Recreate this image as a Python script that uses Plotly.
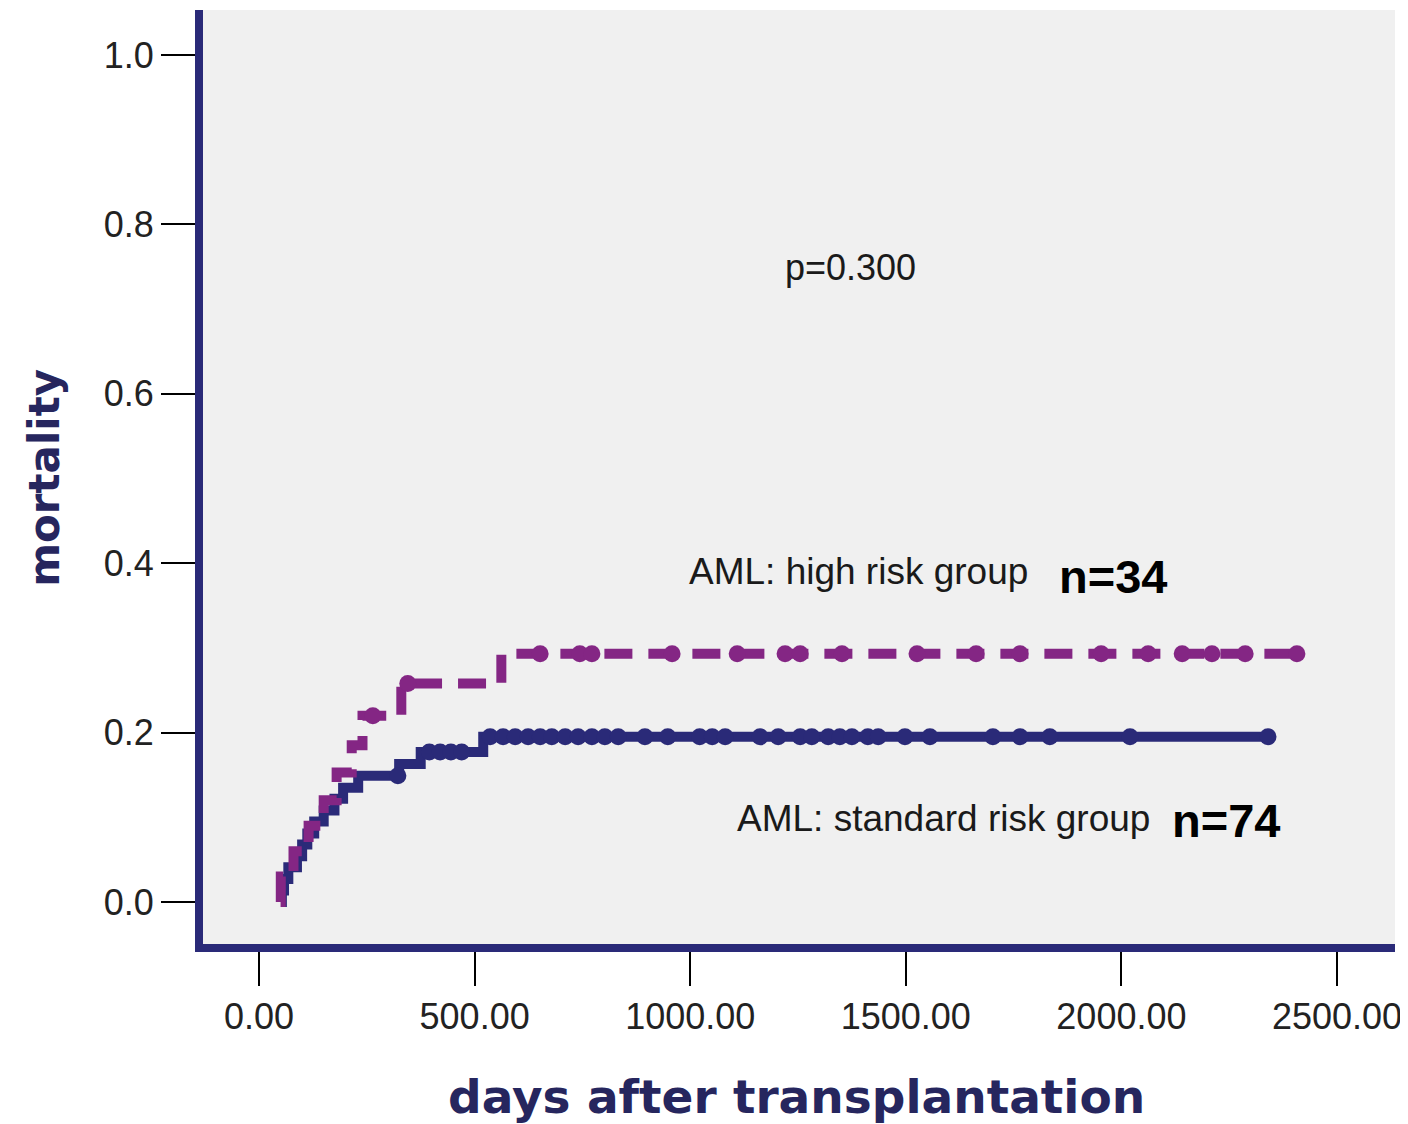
import plotly.graph_objects as go
import bisect

# ---------------- data ----------------
# standard risk group (n=74): cumulative mortality step function
std_days = [52, 53, 58, 68, 88, 100, 112, 128, 150, 175, 195, 230, 325, 375, 520, 2340]
std_mort = [0.0, 0.0135, 0.027, 0.041, 0.054, 0.068, 0.081, 0.095, 0.108, 0.122, 0.135,
            0.149, 0.163, 0.177, 0.195, 0.195]
std_censor_days = [322, 395, 420, 445, 470, 536, 566, 594, 624, 652, 679, 710, 740, 772,
                   802, 833, 895, 948, 1022, 1051, 1081, 1162, 1204, 1255, 1282, 1320,
                   1347, 1375, 1412, 1436, 1498, 1556, 1702, 1765, 1834, 2020, 2340]

# high risk group (n=34)
high_days = [50, 50.5, 80, 115, 150, 180, 215, 240, 330, 562, 2407]
high_mort = [0.0, 0.03, 0.06, 0.09, 0.12, 0.153, 0.185, 0.22, 0.258, 0.293, 0.293]
high_censor_days = [264, 345, 652, 744, 772, 958, 1109, 1220, 1255, 1352, 1526, 1663,
                    1765, 1953, 2062, 2141, 2210, 2287, 2407]

x_ticks = [0, 500, 1000, 1500, 2000, 2500]
x_tick_labels = ["0.00", "500.00", "1000.00", "1500.00", "2000.00", "2500.00"]
y_ticks = [0.0, 0.2, 0.4, 0.6, 0.8, 1.0]
y_tick_labels = ["0.0", "0.2", "0.4", "0.6", "0.8", "1.0"]


def step_value(days, vals, t):
    i = bisect.bisect_right(days, t) - 1
    return vals[max(i, 0)]


NAVY = "#2a2a78"
PURPLE = "#842684"

fig = go.Figure()

fig.add_trace(go.Scatter(
    x=std_days, y=std_mort, mode="lines", line=dict(color=NAVY, width=10, shape="hv"),
    showlegend=False, hoverinfo="skip"))
fig.add_trace(go.Scatter(
    x=std_censor_days, y=[step_value(std_days, std_mort, d) for d in std_censor_days],
    mode="markers", marker=dict(color=NAVY, size=17, symbol="circle"),
    showlegend=False, hoverinfo="skip"))

fig.add_trace(go.Scatter(
    x=high_days, y=high_mort, mode="lines",
    line=dict(color=PURPLE, width=10, shape="hv", dash="28px,16px"),
    showlegend=False, hoverinfo="skip"))
fig.add_trace(go.Scatter(
    x=high_censor_days, y=[step_value(high_days, high_mort, d) for d in high_censor_days],
    mode="markers", marker=dict(color=PURPLE, size=17, symbol="circle"),
    showlegend=False, hoverinfo="skip"))

tick_font = dict(family="Liberation Sans, Arial, sans-serif", size=36, color="#222222")

# page body has an 8px margin; compensate so the plot area sits where the reference has it
fig.update_layout(
    width=1408, height=1124,
    margin=dict(l=195, r=21, t=2, b=188),
    paper_bgcolor="white", plot_bgcolor="#f0f0f0",
    xaxis=dict(range=[-129.9, 2634.5], tickvals=x_ticks, ticktext=x_tick_labels,
               showgrid=False, zeroline=False, showline=True, linecolor=NAVY, linewidth=8,
               ticks="outside", ticklen=34, tickwidth=2, tickcolor="black",
               tickfont=tick_font),
    yaxis=dict(range=[-0.0496, 1.0531], tickvals=y_ticks, ticktext=y_tick_labels,
               showgrid=False, zeroline=False, showline=True, linecolor=NAVY, linewidth=8,
               ticks="outside", ticklen=34, tickwidth=2, tickcolor="black",
               tickfont=tick_font),
)

label_font = dict(family="Liberation Sans, Arial, sans-serif", size=37, color="#1a1a1a")
n_font = dict(family="Liberation Sans, Arial, sans-serif", size=47, color="black")

fig.add_annotation(x=1371, y=0.749, xref="x", yref="y", text="p=0.300", showarrow=False,
                   xanchor="center", yanchor="middle",
                   font=dict(family="Liberation Sans, Arial, sans-serif", size=36, color="#1a1a1a"))
fig.add_annotation(x=1788, y=0.39, xref="x", yref="y", text="AML: high risk group",
                   showarrow=False, xanchor="right", yanchor="middle", font=label_font)
fig.add_annotation(x=1851, y=0.384, xref="x", yref="y", text="<b>n=34</b>",
                   showarrow=False, xanchor="left", yanchor="middle", font=n_font)
fig.add_annotation(x=2071, y=0.098, xref="x", yref="y", text="AML: standard risk group",
                   showarrow=False, xanchor="right", yanchor="middle", font=label_font)
fig.add_annotation(x=2113, y=0.096, xref="x", yref="y", text="<b>n=74</b>",
                   showarrow=False, xanchor="left", yanchor="middle", font=n_font)

fig.add_annotation(x=0.4983, y=-0.1638, xref="paper", yref="paper",
                   text="<b>days after transplantation</b>", showarrow=False,
                   xanchor="center", yanchor="middle",
                   font=dict(family="DejaVu Sans, sans-serif", size=47, color="#26265e"))
fig.add_annotation(x=-0.1326, y=0.499, xref="paper", yref="paper", text="<b>mortality</b>",
                   showarrow=False, textangle=-90, xanchor="center", yanchor="middle",
                   font=dict(family="DejaVu Sans, sans-serif", size=42, color="#26265e"))

fig.write_html("out.html")
